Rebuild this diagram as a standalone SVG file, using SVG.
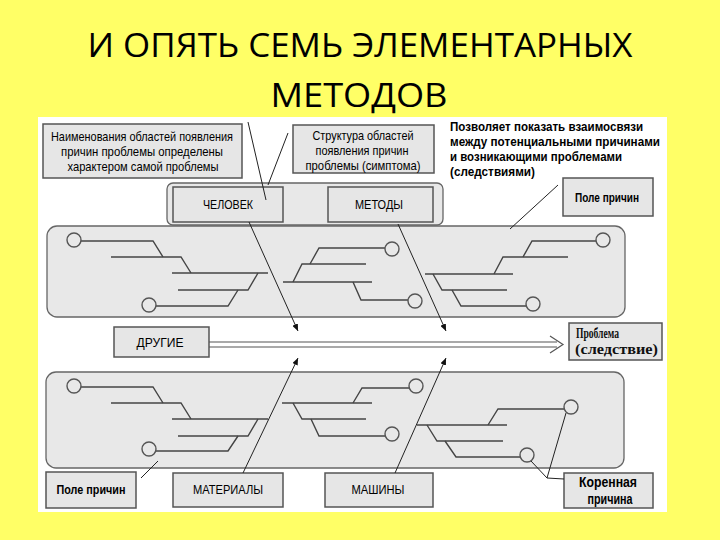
<svg xmlns="http://www.w3.org/2000/svg" width="720" height="540" viewBox="0 0 720 540">
<defs>
<style>
.box{fill:#e6e6e6;stroke:#555;stroke-width:1.5}
.band{fill:#e8e8e8;stroke:#666;stroke-width:1.3}
.bone{fill:none;stroke:#444;stroke-width:1.4}
.ring{fill:#e8e8e8;stroke:#555;stroke-width:1.4}
.lead{fill:none;stroke:#222;stroke-width:1}
.t{font-family:"Liberation Sans Narrow","Liberation Sans",Arial,sans-serif;font-size:13px;fill:#000;text-anchor:middle}
.b{font-weight:bold}
.s{font-family:"Liberation Serif","Times New Roman",serif;font-size:14px;font-weight:bold;fill:#111}
.title{font-family:"Open Sans","Noto Sans",sans-serif;font-size:33px;fill:#000;text-anchor:middle}
</style>
<marker id="tip" markerUnits="userSpaceOnUse" markerWidth="7" markerHeight="6" refX="7" refY="3" orient="auto">
<path d="M0,0 L7,3 L0,6 z" fill="#111"/>
</marker>
</defs>
<rect x="0" y="0" width="720" height="540" fill="#ffff66"/>
<text class="title" x="360" y="57" textLength="545" lengthAdjust="spacingAndGlyphs">И ОПЯТЬ СЕМЬ ЭЛЕМЕНТАРНЫХ</text>
<text class="title" x="359" y="107" textLength="177" lengthAdjust="spacingAndGlyphs">МЕТОДОВ</text>
<rect x="38" y="117" width="629" height="395" fill="#ffffff"/>

<g id="bands">
<rect class="band" x="167" y="183" width="276" height="42" rx="6"/>
<rect class="band" x="47" y="226" width="578" height="91" rx="10"/>
<rect class="band" x="46" y="372" width="578" height="96" rx="10"/>
</g>

<g id="bones">
<polyline class="bone" points="81,241 153,241 163,257"/>
<polyline class="bone" points="111,257 181,257 191,273"/>
<polyline class="bone" points="172,273 268,273"/>
<polyline class="bone" points="178,290 248,290 258,273"/>
<polyline class="bone" points="156,306 228,306 238,290"/>
<circle class="ring" cx="74" cy="240" r="7"/>
<circle class="ring" cx="149" cy="305" r="7"/>

<polyline class="bone" points="385,248 319,248 310,264"/>
<polyline class="bone" points="366,264 302,264 293,282"/>
<polyline class="bone" points="283,282 372,282"/>
<polyline class="bone" points="353,282 361,300 408,300"/>
<circle class="ring" cx="392" cy="249" r="7"/>
<circle class="ring" cx="415" cy="301" r="7"/>

<polyline class="bone" points="596,241 532,241 523,257"/>
<polyline class="bone" points="568,257 503,257 494,274"/>
<polyline class="bone" points="425,274 513,274"/>
<polyline class="bone" points="433,274 442,290 507,290"/>
<polyline class="bone" points="452,290 461,306 526,306"/>
<circle class="ring" cx="603" cy="240" r="7"/>
<circle class="ring" cx="533" cy="304" r="7"/>

<polyline class="bone" points="81,387 153,387 163,403"/>
<polyline class="bone" points="111,403 181,403 191,419"/>
<polyline class="bone" points="172,419 268,419"/>
<polyline class="bone" points="178,436 248,436 258,419"/>
<polyline class="bone" points="156,451 228,451 238,436"/>
<circle class="ring" cx="74" cy="386" r="7"/>
<circle class="ring" cx="149" cy="449" r="7"/>

<polyline class="bone" points="409,388 362,388 353,403"/>
<polyline class="bone" points="282,403 372,403"/>
<polyline class="bone" points="293,403 302,419 366,419"/>
<polyline class="bone" points="311,419 319,436 385,436"/>
<circle class="ring" cx="416" cy="386" r="7"/>
<circle class="ring" cx="392" cy="434" r="7"/>

<polyline class="bone" points="564,409 498,409 488,425"/>
<polyline class="bone" points="417,425 507,425"/>
<polyline class="bone" points="427,425 437,441 503,441"/>
<polyline class="bone" points="445,441 456,457 520,457"/>
<circle class="ring" cx="571" cy="407" r="7"/>
<circle class="ring" cx="527" cy="455" r="7"/>
</g>

<g id="node-names">
<rect class="box" x="43" y="124" width="199" height="54"/>
<text class="t" x="142" y="141" textLength="182" lengthAdjust="spacingAndGlyphs">Наименования областей появления</text>
<text class="t" x="142" y="156" textLength="162" lengthAdjust="spacingAndGlyphs">причин проблемы определены</text>
<text class="t" x="143" y="171" textLength="151" lengthAdjust="spacingAndGlyphs">характером самой проблемы</text>
</g>
<g id="node-structure">
<rect class="box" x="293" y="125" width="141" height="48"/>
<text class="t" x="363" y="140" textLength="101" lengthAdjust="spacingAndGlyphs">Структура областей</text>
<text class="t" x="362" y="155" textLength="93" lengthAdjust="spacingAndGlyphs">появления причин</text>
<text class="t" x="363" y="170" textLength="115" lengthAdjust="spacingAndGlyphs">проблемы (симптома)</text>
</g>
<g id="node-note">
<text class="t b" x="450" y="131" style="text-anchor:start" textLength="193" lengthAdjust="spacingAndGlyphs">Позволяет показать взаимосвязи</text>
<text class="t b" x="450" y="146" style="text-anchor:start" textLength="210" lengthAdjust="spacingAndGlyphs">между потенциальными причинами</text>
<text class="t b" x="450" y="161" style="text-anchor:start" textLength="172" lengthAdjust="spacingAndGlyphs">и возникающими проблемами</text>
<text class="t b" x="450" y="176" style="text-anchor:start" textLength="85" lengthAdjust="spacingAndGlyphs">(следствиями)</text>
</g>
<g id="node-chelovek">
<rect class="box" x="173" y="187" width="110" height="35"/>
<text class="t" x="228" y="209" textLength="50" lengthAdjust="spacingAndGlyphs">ЧЕЛОВЕК</text>
</g>
<g id="node-metody">
<rect class="box" x="328" y="187" width="105" height="35"/>
<text class="t" x="379" y="209" textLength="48" lengthAdjust="spacingAndGlyphs">МЕТОДЫ</text>
</g>
<g id="node-pole-top">
<rect class="box" x="563" y="178" width="90" height="38"/>
<text class="t b" x="607" y="202" textLength="64" lengthAdjust="spacingAndGlyphs">Поле причин</text>
</g>
<g id="node-drugie">
<rect class="box" x="114" y="327" width="95" height="30"/>
<text class="t" x="160" y="347" textLength="47" lengthAdjust="spacingAndGlyphs">ДРУГИЕ</text>
</g>
<g id="node-problem">
<rect class="box" x="569" y="323" width="93" height="37"/>
<text class="s" x="576" y="338" textLength="43" lengthAdjust="spacingAndGlyphs">Проблема</text>
<text class="s" x="575" y="354" textLength="83" lengthAdjust="spacingAndGlyphs">(следствие)</text>
</g>
<g id="node-pole-bottom">
<rect class="box" x="46" y="472" width="90" height="36"/>
<text class="t b" x="91" y="494" textLength="69" lengthAdjust="spacingAndGlyphs">Поле причин</text>
</g>
<g id="node-materialy">
<rect class="box" x="173" y="473" width="110" height="34"/>
<text class="t" x="228" y="494" textLength="70" lengthAdjust="spacingAndGlyphs">МАТЕРИАЛЫ</text>
</g>
<g id="node-mashiny">
<rect class="box" x="325" y="473" width="108" height="34"/>
<text class="t" x="378" y="494" textLength="53" lengthAdjust="spacingAndGlyphs">МАШИНЫ</text>
</g>
<g id="node-root">
<rect class="box" x="564" y="473" width="89" height="35"/>
<text class="t b" x="608" y="487" style="font-size:15px" textLength="58" lengthAdjust="spacingAndGlyphs">Коренная</text>
<text class="t b" x="610" y="504" style="font-size:15px" textLength="45" lengthAdjust="spacingAndGlyphs">причина</text>
</g>

<g id="connectors">
<line class="lead" x1="248" y1="122" x2="266" y2="200"/>
<line class="lead" x1="288" y1="133" x2="268" y2="185"/>
<line class="lead" x1="558" y1="185" x2="510" y2="229"/>
<line class="lead" x1="141" y1="478" x2="158" y2="461"/>
<polyline class="lead" points="566,413 547,478 564,479"/>
<line class="lead" x1="531" y1="461" x2="547" y2="478"/>
<line class="lead" x1="249" y1="222" x2="298" y2="331" marker-end="url(#tip)"/>
<line class="lead" x1="398" y1="224" x2="446" y2="331" marker-end="url(#tip)"/>
<line class="lead" x1="243" y1="473" x2="298" y2="358" marker-end="url(#tip)"/>
<line class="lead" x1="395" y1="473" x2="446" y2="358" marker-end="url(#tip)"/>
<line x1="209" y1="342" x2="557" y2="342" stroke="#555" stroke-width="1.2"/>
<line x1="209" y1="347" x2="557" y2="347" stroke="#555" stroke-width="1.2"/>
<path d="M550,336 L563,344.5 L550,353" fill="none" stroke="#555" stroke-width="1.2"/>
</g>
</svg>
